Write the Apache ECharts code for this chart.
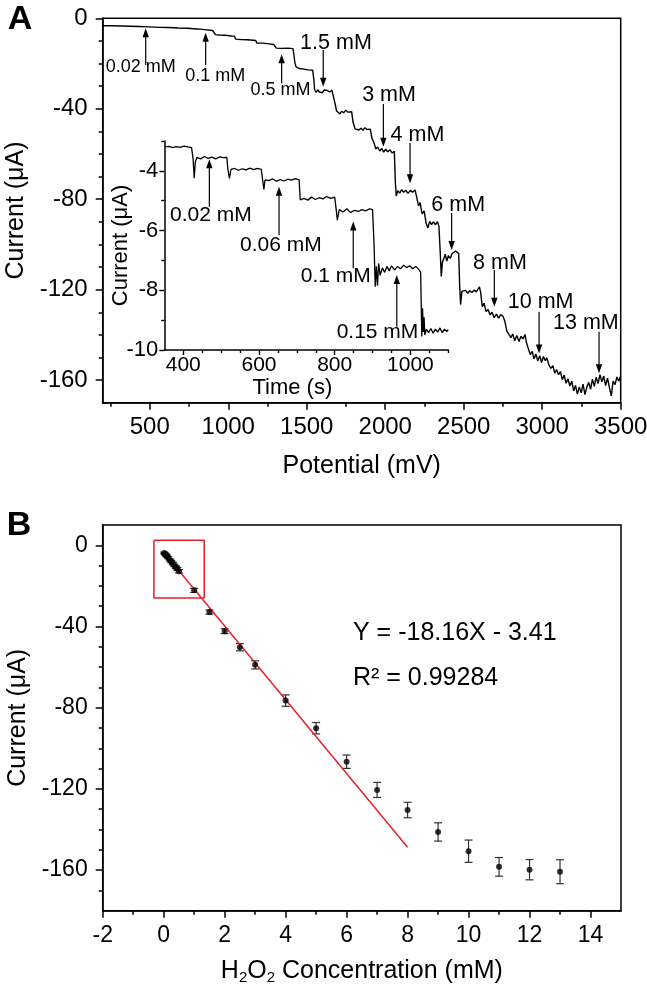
<!DOCTYPE html>
<html><head><meta charset="utf-8">
<script src="https://cdn.jsdelivr.net/npm/echarts@6/dist/echarts.min.js"></script>
<style>html,body{margin:0;padding:0;background:#fff}#c{width:647px;height:991px}</style>
</head><body><div id="c"></div>
<script>
const FONT = '"Liberation Sans", Arial, sans-serif';

// ---------- Panel A: main amperometric trace [potential (mV), current (uA)] ----------
const mainTrace = [[200,-3.3],[260,-3.3],[320,-3.4],[380,-3.5],[430,-3.6],[440,-3.8],[500,-3.8],[560,-4.0],[620,-4.1],[680,-4.3],[740,-4.4],[800,-4.7],[850,-5.0],[900,-5.4],[912,-5.5],[918,-7.2],[940,-7.4],[980,-7.5],[1020,-7.8],[1040,-7.9],[1046,-9.2],[1080,-9.4],[1120,-9.5],[1160,-9.7],[1175,-9.8],[1182,-10.9],[1220,-11.0],[1260,-11.3],[1290,-11.6],[1300,-12.2],[1306,-13.2],[1340,-13.3],[1380,-13.2],[1412,-13.4],[1418,-16],[1424,-19.5],[1432,-21.5],[1450,-22.2],[1480,-22.5],[1510,-22.8],[1538,-23],[1545,-27],[1550,-31.5],[1560,-32.8],[1570,-31.6],[1580,-32.6],[1590,-31.8],[1600,-32.9],[1610,-31.7],[1620,-32.5],[1630,-31.9],[1645,-32.6],[1660,-31.8],[1670,-32.2],[1678,-37],[1690,-41],[1700,-40.2],[1712,-42.3],[1722,-41.1],[1735,-41.8],[1748,-40.6],[1760,-41.5],[1772,-40.8],[1786,-41.3],[1795,-46],[1808,-48.9],[1820,-48.1],[1832,-49.4],[1845,-48.6],[1858,-49.5],[1870,-48.4],[1884,-49.2],[1895,-48.5],[1905,-49.0],[1915,-53],[1928,-55],[1940,-57.8],[1952,-56.9],[1965,-58.7],[1978,-57.6],[1990,-59.2],[2003,-57.9],[2016,-59.0],[2030,-58.2],[2045,-59.6],[2058,-58.8],[2064,-72],[2070,-78.6],[2080,-76.2],[2092,-77.3],[2105,-75.8],[2118,-77.0],[2130,-76.0],[2145,-77.4],[2160,-76.1],[2175,-76.9],[2190,-75.9],[2200,-79],[2212,-83],[2222,-81.5],[2235,-86.5],[2248,-85.2],[2260,-90.5],[2272,-92.7],[2283,-89.8],[2295,-91.2],[2307,-90.0],[2320,-91.3],[2333,-89.9],[2342,-92],[2350,-103],[2357,-114.2],[2364,-108],[2372,-106.5],[2382,-104.3],[2392,-107.4],[2402,-105.0],[2414,-106.2],[2425,-104.1],[2437,-104.8],[2448,-102.9],[2460,-102.4],[2468,-104],[2474,-118],[2480,-126.6],[2488,-120.8],[2500,-121.4],[2512,-120.3],[2525,-121.6],[2538,-120.5],[2552,-121.3],[2566,-120.2],[2580,-121.0],[2592,-119.7],[2600,-118.8],[2608,-121.2],[2618,-127.5],[2630,-126.0],[2642,-129.7],[2655,-128.8],[2668,-131.2],[2680,-130.0],[2694,-132.4],[2708,-130.8],[2722,-132.6],[2736,-131.0],[2750,-131.8],[2762,-134],[2775,-138.5],[2788,-139.8],[2800,-141.2],[2812,-139.6],[2825,-142.6],[2838,-140.3],[2852,-142.9],[2865,-140.6],[2878,-141.8],[2890,-139.8],[2900,-143.5],[2912,-146.2],[2924,-148.7],[2936,-147.3],[2948,-150.6],[2960,-148.5],[2972,-151.5],[2984,-149.2],[2996,-152.2],[3008,-149.6],[3020,-151.4],[3030,-150.2],[3042,-153.2],[3055,-154.8],[3068,-153.6],[3080,-156.9],[3092,-155.3],[3104,-157.6],[3116,-156.2],[3128,-159.8],[3140,-157.8],[3152,-161.4],[3164,-159.4],[3176,-162.6],[3188,-160.5],[3200,-164.8],[3212,-162.3],[3224,-166.2],[3236,-163.0],[3248,-165.6],[3260,-161.8],[3272,-166.4],[3284,-163.2],[3296,-161.0],[3308,-164.1],[3320,-159.6],[3332,-162.8],[3344,-158.7],[3356,-161.5],[3368,-157.6],[3380,-160.8],[3392,-158.2],[3404,-162.4],[3416,-159.1],[3428,-163.2],[3440,-167.0],[3452,-160.4],[3464,-162.0],[3476,-158.6],[3488,-160.5],[3500,-158.0]];

// Inset trace [time (s), current (uA)]
const insetTrace = [[352,-3.2],[362,-3.18],[372,-3.22],[382,-3.19],[392,-3.21],[402,-3.17],[412,-3.2],[422,-3.22],[426,-3.6],[429,-4.25],[432,-3.7],[436,-3.55],[446,-3.6],[456,-3.52],[466,-3.58],[476,-3.54],[486,-3.6],[496,-3.53],[506,-3.56],[515,-3.55],[518,-3.95],[522,-4.25],[526,-3.95],[536,-3.92],[546,-3.98],[556,-3.93],[566,-3.97],[576,-3.91],[586,-3.96],[596,-3.92],[606,-3.95],[611,-3.98],[613,-4.62],[616,-4.3],[626,-4.33],[636,-4.27],[646,-4.35],[656,-4.29],[666,-4.34],[676,-4.28],[686,-4.31],[696,-4.26],[706,-4.3],[709,-4.97],[719,-4.92],[729,-4.98],[739,-4.88],[749,-4.96],[759,-4.9],[769,-4.94],[779,-4.86],[789,-4.92],[800,-4.88],[804,-5.3],[807,-5.65],[812,-5.3],[822,-5.38],[832,-5.27],[842,-5.4],[852,-5.32],[862,-5.36],[872,-5.3],[882,-5.34],[892,-5.27],[900,-5.3],[904,-6.5],[907,-7.88],[910,-7.2],[913,-7.85],[916,-7.1],[920,-7.5],[926,-7.25],[932,-7.4],[938,-7.2],[944,-7.35],[950,-7.18],[958,-7.32],[966,-7.2],[974,-7.28],[982,-7.16],[990,-7.24],[998,-7.18],[1006,-7.28],[1014,-7.2],[1022,-7.3],[1027,-7.4],[1030,-9.55],[1032,-8.6],[1034,-9.4],[1036,-8.9],[1038,-9.5],[1042,-9.3],[1048,-9.42],[1054,-9.28],[1060,-9.44],[1066,-9.3],[1072,-9.4],[1078,-9.26],[1084,-9.42],[1090,-9.3],[1096,-9.38],[1100,-9.32]];

// Annotations (data coordinates): arrow x, tail y, head y, label anchor x, label anchor y
const topNotes = [
  {label:'0.02 mM', x:474,  tail:-20.7, head:-4.4,  lx:442,  ly:-21.6},
  {label:'0.1 mM',  x:856,  tail:-20.7, head:-6.4,  lx:917,  ly:-25.5},
  {label:'0.5 mM',  x:1340, tail:-28.7, head:-15.9, lx:1333, ly:-31.7},
  {label:'1.5 mM',  x:1605, tail:-14.0, head:-30.3, lx:1686, ly:-10.8},
  {label:'3 mM',    x:1988, tail:-37.9, head:-56.8, lx:2024, ly:-33.9},
  {label:'4 mM',    x:2158, tail:-55.2, head:-73.0, lx:2205, ly:-51.6},
  {label:'6 mM',    x:2423, tail:-86.1, head:-102.5,lx:2465, ly:-82.6},
  {label:'8 mM',    x:2695, tail:-111.3,head:-127.6,lx:2731, ly:-108.1},
  {label:'10 mM',   x:2980, tail:-129.8,head:-148.2,lx:2990, ly:-125.3},
  {label:'13 mM',   x:3362, tail:-138.6,head:-157.0,lx:3278, ly:-134.9}
];
const insetNotes = [
  {label:'0.02 mM', x:469, tail:-5.2,  head:-3.61, lx:473, ly:-5.48},
  {label:'0.06 mM', x:653, tail:-6.15, head:-4.53, lx:658, ly:-6.48},
  {label:'0.1 mM',  x:849, tail:-7.26, head:-5.70, lx:803, ly:-7.54},
  {label:'0.15 mM', x:964, tail:-9.22, head:-7.49, lx:913, ly:-9.39}
];

// Tick values
const topXMajor = [500,1000,1500,2000,2500,3000,3500];
const topXMinor = [250,750,1250,1750,2250,2750,3250];
const topYMajor = [-160,-120,-80,-40,0];
const topYMinor = [-150,-140,-130,-110,-100,-90,-70,-60,-50,-30,-20,-10];
const insetXMajor = [400,600,800,1000];
const insetXMinor = [450,500,550,650,700,750,850,900,950,1050,1100];
const insetYMajor = [-10,-8,-6,-4];
const insetYMinor = [-9,-7,-5,-3];
const botXMajor = [-2,0,2,4,6,8,10,12,14];
const botXMinor = [-1,1,3,5,7,9,11,13];
const botYMajor = [-160,-120,-80,-40,0];
const botYMinor = [-170,-150,-140,-130,-110,-100,-90,-70,-60,-50,-30,-20,-10];

// ---------- Panel B: calibration ----------
const concentrations = [0.02,0.04,0.06,0.08,0.1,0.15,0.2,0.25,0.3,0.35,0.4,0.45,0.5,1,1.5,2,2.5,3,4,5,6,7,8,9,10,11,12,13];
const currents = [-3.8,-4.2,-4.5,-4.9,-5.3,-6.1,-7.2,-8.0,-9.0,-9.9,-10.8,-11.6,-12.8,-22.2,-32.9,-42.3,-50.2,-58.9,-76.5,-90.1,-106.6,-120.5,-130.4,-141.2,-150.7,-158.4,-159.8,-160.8];
const errors = [0.4,0.4,0.4,0.4,0.5,0.5,0.5,0.6,0.6,0.6,0.7,0.7,0.8,1.0,1.0,1.2,1.8,2.0,2.8,2.8,3.3,3.7,3.8,4.5,5.5,4.6,5.0,5.9];
const fitLine = [[0.02,-3.8],[8,-148.7]];
const zoomBox = [[-0.32,2.5],[1.33,2.5],[1.33,-26],[-0.32,-26],[-0.32,2.5]];

// ---------- chart ----------
const chart = echarts.init(document.getElementById('c'), null, {renderer:'canvas'});
const black = '#000';
const lineSt = w => ({color:black, width:w});
const plain = v => String(v);

function majorAxis(o){
  return Object.assign({
    type:'value', splitLine:{show:false},
    axisLine:{show:true, onZero:false, lineStyle:lineSt(1.5)},
    nameLocation:'middle',
    nameTextStyle:{fontSize:25, color:black, fontFamily:FONT}
  }, o);
}
function minorAxis(o){
  return Object.assign({
    type:'value', splitLine:{show:false},
    axisLine:{show:false, onZero:false}, axisLabel:{show:false}
  }, o);
}

function arrowRender(notes, sizeOf){
  return function(params, api){
    const n = notes[params.dataIndex];
    const t = api.coord([n.x, n.tail]);
    const h = api.coord([n.x, n.head]);
    const l = api.coord([n.lx, n.ly]);
    const dir = h[1] > t[1] ? 1 : -1;
    const hl = 9, hw = 3.2;
    return {type:'group', children:[
      {type:'line', shape:{x1:t[0], y1:t[1], x2:h[0], y2:h[1]-dir*hl*0.7}, style:{stroke:black, lineWidth:1.2}},
      {type:'polygon', shape:{points:[[h[0],h[1]],[h[0]-hw,h[1]-dir*hl],[h[0]+hw,h[1]-dir*hl]]}, style:{fill:black}},
      {type:'text', x:l[0], y:l[1], style:{text:n.label, fontSize:sizeOf(params.dataIndex), fontFamily:FONT, fill:black, align:'center', verticalAlign:'middle'}}
    ]};
  };
}

const option = {
  animation:false,
  backgroundColor:'#fff',
  grid:[
    {left:102.7, top:18.3, width:518, height:384.4, show:true, borderColor:black, borderWidth:1.5, backgroundColor:'transparent', containLabel:false, outerBoundsMode:'none'},
    {left:164.3, top:141, width:284, height:209, show:false, containLabel:false, outerBoundsMode:'none'},
    {left:102.7, top:525, width:518.3, height:385.7, show:true, borderColor:black, borderWidth:1.5, backgroundColor:'transparent', containLabel:false, outerBoundsMode:'none'}
  ],
  xAxis:[
    majorAxis({gridIndex:0, position:'bottom', min:200, max:3500,
      axisTick:{customValues:topXMajor, length:7, lineStyle:lineSt(1.5)},
      axisLabel:{customValues:topXMajor, formatter:plain, fontSize:24, color:black, margin:13, fontFamily:FONT},
      name:'Potential (mV)', nameGap:51}),
    minorAxis({gridIndex:0, position:'bottom', min:200, max:3500,
      axisTick:{customValues:topXMinor, length:4, lineStyle:lineSt(1.5)}}),
    majorAxis({gridIndex:1, position:'bottom', min:350, max:1100,
      axisTick:{customValues:insetXMajor, length:5, lineStyle:lineSt(1.4)},
      axisLabel:{customValues:insetXMajor, formatter:plain, fontSize:21, color:black, margin:5, fontFamily:FONT},
      name:'Time (s)', nameGap:27, nameTextStyle:{fontSize:22, color:black, fontFamily:FONT, padding:[0,28,0,0]}}),
    minorAxis({gridIndex:1, position:'bottom', min:350, max:1100,
      axisTick:{customValues:insetXMinor, length:3, lineStyle:lineSt(1.4)}}),
    majorAxis({gridIndex:2, position:'bottom', min:-2, max:15,
      axisTick:{customValues:botXMajor, length:7, lineStyle:lineSt(1.5)},
      axisLabel:{customValues:botXMajor, formatter:plain, fontSize:23, color:black, margin:13, fontFamily:FONT},
      name:'{a|H}{s|2}{a|O}{s|2}{a| Concentration (mM)}', nameGap:45,
      nameTextStyle:{rich:{
        a:{fontSize:25, color:black, fontFamily:FONT, lineHeight:30},
        s:{fontSize:15, color:black, fontFamily:FONT, lineHeight:14, verticalAlign:'bottom'}
      }}}),
    minorAxis({gridIndex:2, position:'bottom', min:-2, max:15,
      axisTick:{customValues:botXMinor, length:4, lineStyle:lineSt(1.5)}})
  ],
  yAxis:[
    majorAxis({gridIndex:0, position:'left', min:-170, max:0,
      axisTick:{customValues:topYMajor, length:7, lineStyle:lineSt(1.5)},
      axisLabel:{customValues:topYMajor, formatter:plain, fontSize:24, color:black, margin:15, fontFamily:FONT},
      name:'Current (\u03bcA)', nameGap:72}),
    minorAxis({gridIndex:0, position:'left', min:-170, max:0,
      axisTick:{customValues:topYMinor, length:4, lineStyle:lineSt(1.5)}}),
    majorAxis({gridIndex:1, position:'left', min:-10, max:-3,
      axisTick:{customValues:insetYMajor, length:5, lineStyle:lineSt(1.4)},
      axisLabel:{customValues:insetYMajor, formatter:plain, fontSize:22, color:black, margin:6, fontFamily:FONT},
      name:'Current (\u03bcA)', nameGap:32, nameMoveOverlap:false,
      nameTextStyle:{fontSize:22, color:black, fontFamily:FONT}}),
    minorAxis({gridIndex:1, position:'left', min:-10, max:-3,
      axisTick:{customValues:insetYMinor, length:3, lineStyle:lineSt(1.4)}}),
    majorAxis({gridIndex:2, position:'left', min:-180, max:10,
      axisTick:{customValues:botYMajor, length:7, lineStyle:lineSt(1.5)},
      axisLabel:{customValues:botYMajor, formatter:plain, fontSize:23, color:black, margin:15, fontFamily:FONT},
      name:'Current (\u03bcA)', nameGap:72}),
    minorAxis({gridIndex:2, position:'left', min:-180, max:10,
      axisTick:{customValues:botYMinor, length:4, lineStyle:lineSt(1.5)}})
  ],
  series:[
    {type:'line', xAxisIndex:0, yAxisIndex:0, data:mainTrace, showSymbol:false, symbol:'none',
      lineStyle:{color:black, width:1.4}, z:3},
    {type:'custom', xAxisIndex:0, yAxisIndex:0, data:topNotes.map(n=>[n.x, n.head]), clip:false,
      renderItem:arrowRender(topNotes, i => i < 3 ? 18 : 21.5), z:5},
    {type:'line', xAxisIndex:2, yAxisIndex:2, data:insetTrace, showSymbol:false, symbol:'none',
      lineStyle:{color:black, width:1.3}, z:3},
    {type:'custom', xAxisIndex:2, yAxisIndex:2, data:insetNotes.map(n=>[n.x, n.head]), clip:false,
      renderItem:arrowRender(insetNotes, () => 21), z:5},
    {type:'line', xAxisIndex:4, yAxisIndex:4, data:zoomBox, showSymbol:false, symbol:'none',
      lineStyle:{color:'#e8202a', width:1.5}, z:2},
    {type:'line', xAxisIndex:4, yAxisIndex:4, data:fitLine, showSymbol:false, symbol:'none',
      lineStyle:{color:'#e8202a', width:1.5}, z:4},
    {type:'custom', xAxisIndex:4, yAxisIndex:4,
      data:concentrations.map((c,i)=>[c, currents[i], errors[i]]),
      renderItem:function(params, api){
        const x = api.value(0), y = api.value(1), e = api.value(2);
        const a = api.coord([x, y + e]), b = api.coord([x, y - e]);
        const cap = 4, st = {stroke:'#333', lineWidth:1.2};
        return {type:'group', children:[
          {type:'line', shape:{x1:a[0], y1:a[1], x2:b[0], y2:b[1]}, style:st},
          {type:'line', shape:{x1:a[0]-cap, y1:a[1], x2:a[0]+cap, y2:a[1]}, style:st},
          {type:'line', shape:{x1:b[0]-cap, y1:b[1], x2:b[0]+cap, y2:b[1]}, style:st}
        ]};
      }, z:3},
    {type:'scatter', xAxisIndex:4, yAxisIndex:4,
      data:concentrations.map((c,i)=>[c, currents[i]]),
      symbol:'circle', symbolSize:6, itemStyle:{color:black}, z:5}
  ],
  graphic:[
    {type:'text', x:20, y:20, style:{text:'A', font:'bold 34px "Liberation Sans", Arial, sans-serif', fill:black, align:'center', verticalAlign:'middle'}},
    {type:'text', x:19, y:526, style:{text:'B', font:'bold 34px "Liberation Sans", Arial, sans-serif', fill:black, align:'center', verticalAlign:'middle'}},
    {type:'text', x:353, y:633, style:{text:'Y = -18.16X - 3.41', font:'25px "Liberation Sans", Arial, sans-serif', fill:black, align:'left', verticalAlign:'middle'}},
    {type:'text', x:353, y:678, style:{text:'R\u00b2 = 0.99284', font:'25px "Liberation Sans", Arial, sans-serif', fill:black, align:'left', verticalAlign:'middle'}}
  ]
};
chart.setOption(option);
</script></body></html>
